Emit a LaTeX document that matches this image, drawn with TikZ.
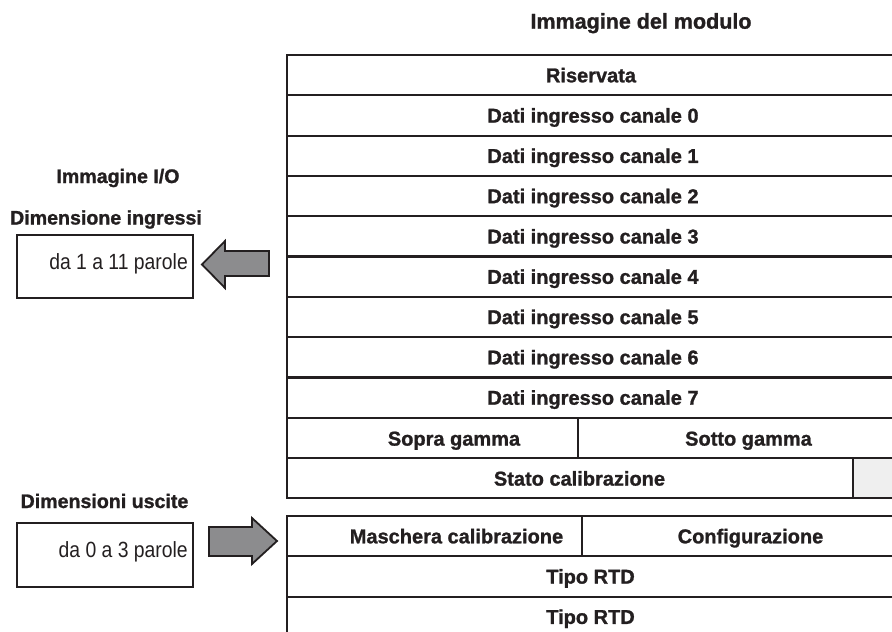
\documentclass[tikz,border=0pt]{standalone}
\usepackage{fontspec}
\setmainfont{Liberation Sans}[BoldFeatures={FakeBold=1.2}]
\newfontfamily\condfont{Liberation Sans}[FakeStretch=0.88]
\definecolor{ink}{HTML}{231F20}
\definecolor{arrowgray}{HTML}{8C8C8E}
\definecolor{cellgray}{HTML}{EFEFEF}
\begin{document}
\begin{tikzpicture}[x=1pt,y=-1pt,
  every node/.style={inner sep=0pt, text=ink},
  rowtxt/.style={font=\bfseries\fontsize{20}{24}\selectfont, text height=14.3pt, text depth=0pt, anchor=center},
  headtxt/.style={font=\bfseries\fontsize{19.6}{24}\selectfont, text height=14pt, text depth=0pt, anchor=center},
  titletxt/.style={font=\bfseries\fontsize{21.5}{26}\selectfont, text height=15.4pt, text depth=0pt, anchor=center},
  valtxt/.style={font=\condfont\fontsize{22}{26}\selectfont, text height=15.7pt, text depth=0pt, anchor=east},
  tableline/.style={draw=ink, line width=2.2pt},
  boxline/.style={draw=ink, line width=1.8pt},
  blockarrow/.style={draw=ink, line width=1.8pt, fill=arrowgray, line join=miter}]
\useasboundingbox (0,0) rectangle (892,632);
\clip (0,0) rectangle (892,632);

% ---------- upper table (module image) ----------
\fill[cellgray] (852.7,458.6) rectangle (960,498.3);
\draw[tableline] (287,55) rectangle (960,498.3);
\foreach \i in {1,...,10}{
  \draw[tableline] (287,{55+40.3*\i}) -- (960,{55+40.3*\i});
}
\draw[tableline] (578.3,418.3) -- (578.3,458.6);
\draw[tableline] (852.7,458.6) -- (852.7,498.3);

\node[titletxt] (title) at (641,21) {Immagine del modulo};
\node[rowtxt] (r0) at (591,75.15) {Riservata};
\foreach \i/\c in {1/0,2/1,3/2,4/3,5/4,6/5,7/6,8/7}{
  \node[rowtxt] (r\i) at (593,{55+40.3*\i+20.15}) {Dati ingresso canale \c};
}
\node[rowtxt] (sopra) at (454,438.45) {Sopra gamma};
\node[rowtxt] (sotto) at (748.5,438.45) {Sotto gamma};
\node[rowtxt] (stato) at (579.5,478.45) {Stato calibrazione};

% ---------- lower table (outputs) ----------
\draw[tableline] (287,516) rectangle (960,680);
\draw[tableline] (287,556.3) -- (960,556.3);
\draw[tableline] (287,596.6) -- (960,596.6);
\draw[tableline] (581.7,516) -- (581.7,556.3);
\node[rowtxt] (masch) at (456.5,536.15) {Maschera calibrazione};
\node[rowtxt] (config) at (750.5,536.15) {Configurazione};
\node[rowtxt] (tipo1) at (590.5,576.45) {Tipo RTD};
\node[rowtxt] (tipo2) at (590.5,616.75) {Tipo RTD};

% ---------- left side ----------
\node[headtxt] (ioimg) at (118,176) {Immagine I/O};
\node[headtxt] (inhead) at (106,217.5) {Dimensione ingressi};
\node[boxline, minimum width=176pt, minimum height=63pt, anchor=north west] (inbox) at (16,234) {};
\node[valtxt] (inval) at (188,262) {da 1 a 11 parole};

\node[headtxt] (outhead) at (104.5,501) {Dimensioni uscite};
\node[boxline, minimum width=176pt, minimum height=64pt, anchor=north west] (outbox) at (16,522) {};
\node[valtxt] (outval) at (188,549.5) {da 0 a 3 parole};

% ---------- block arrows ----------
\draw[blockarrow] (202,264.5) -- (225,241) -- (225,251) -- (269,251) -- (269,276) -- (225,276) -- (225,288) -- cycle;
\draw[blockarrow] (277,541) -- (252,518) -- (252,527) -- (209,527) -- (209,556) -- (252,556) -- (252,564) -- cycle;
\end{tikzpicture}
\end{document}
